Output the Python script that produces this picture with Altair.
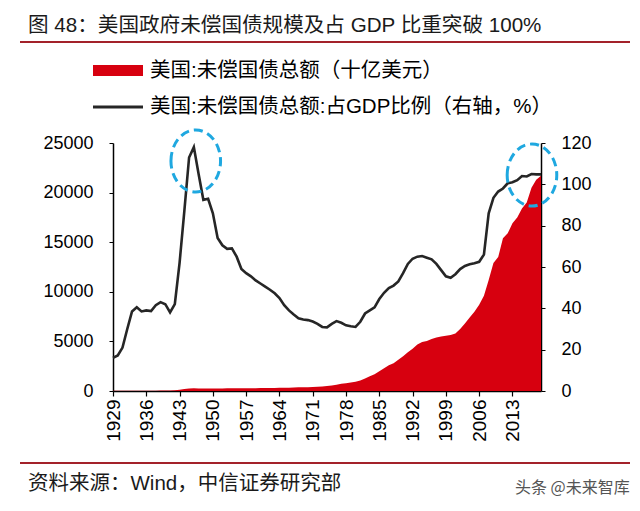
import altair as alt
import pandas as pd

# ---- data ----
years = list(range(1929, 2020))

debt_bn = [17, 16, 17, 19, 23, 27, 29, 34, 36, 37,          # 1929-1938
           40, 43, 49, 72, 137, 201, 259, 270, 258, 252,     # 1939-1948
           253, 257, 255, 259, 266, 271, 274, 273, 271, 276, # 1949-1958
           285, 291, 293, 303, 310, 316, 322, 328, 341, 370, # 1959-1968
           367, 381, 408, 436, 466, 500, 560, 640, 720, 790, # 1969-1978
           850, 930, 1050, 1250, 1480, 1700, 2000, 2300, 2600, 2800,  # 1979-1988
           3150, 3500, 3900, 4250, 4700, 4950, 5050, 5250, 5400, 5500, # 1989-1998
           5570, 5650, 5800, 6250, 6800, 7400, 8000, 8700, 9600, 11200, # 1999-2008
           12900, 13500, 15400, 15900, 16900, 17500, 18400, 19000, 20500, 21300, # 2009-2018
           21700]  # 2019

debt_pct = [16, 17.2, 21, 30, 38.5, 40.5, 38.5, 39, 38.7, 41.5,   # 1929-1938
            43, 42, 38, 42, 62, 87, 113, 118, 105, 92.5,          # 1939-1948
            93, 86, 74, 70.5, 68.8, 69, 65, 59, 57, 55.5,         # 1949-1958
            53.5, 52, 50.5, 49, 47.3, 45, 41.5, 39, 37, 35.2,     # 1959-1968
            34.6, 34.3, 33.6, 32.5, 31, 30.8, 32.5, 33.8, 33, 31.8, # 1969-1978
            31.3, 31, 33.5, 37.5, 39, 40.5, 44.5, 47.5, 49.8, 51,   # 1979-1988
            53, 57, 61.5, 64, 65, 65.3, 64.5, 63.7, 61.5, 58.5,     # 1989-1998
            55.5, 54.8, 56.5, 59, 60.5, 61.3, 61.8, 62.5, 66, 86,   # 1999-2008
            93.5, 96.5, 98, 100.5, 101, 102, 104, 103.8, 105, 104.8, # 2009-2018
            104.8]  # 2019

x_tick_years = [1929, 1936, 1943, 1950, 1957, 1964, 1971, 1978, 1985, 1992, 1999, 2006, 2013]
left_ticks = [0, 5000, 10000, 15000, 20000, 25000]
right_ticks = [0, 20, 40, 60, 80, 100, 120]

highlight_years = [1946.4, 2017.1]
highlight_pct = [111.3, 104.5]

title_text = "图 48：美国政府未偿国债规模及占 GDP 比重突破 100%"
legend_area = "美国:未偿国债总额（十亿美元）"
legend_line = "美国:未偿国债总额:占GDP比例（右轴，%）"
source_text = "资料来源：Wind，中信证券研究部"
watermark = "头条 @未来智库"

df = pd.DataFrame({"year": years, "debt": debt_bn, "pct": debt_pct})
hl = pd.DataFrame({"year": highlight_years, "pct": highlight_pct})
one = pd.DataFrame({"a": [0]})

FONT = "Liberation Sans, Noto Sans CJK SC"
RED = "#D7000F"

x_axis = alt.Axis(values=x_tick_years, format="d", labelAngle=-90,
                  labelFontSize=19, labelFont=FONT, labelColor="#000",
                  tickSize=5, labelPadding=3, title=None,
                  domainColor="#000", domainWidth=1.5, tickColor="#000",
                  tickWidth=1.2, grid=False, labelFlush=False)
x_scale = alt.Scale(domain=[1929, 2019], nice=False, zero=False)

right_axis = alt.Axis(orient="right", values=right_ticks, format="d",
                      labelFontSize=18, labelFont=FONT, labelColor="#000",
                      title=None, tickSize=4, labelPadding=16,
                      domainColor="#000", domainWidth=1.5, tickColor="#000",
                      grid=False)
right_scale = alt.Scale(domain=[0, 120], nice=False)

area = alt.Chart(df).mark_area(color=RED, opacity=1).encode(
    x=alt.X("year:Q", scale=x_scale, axis=x_axis),
    y=alt.Y("debt:Q", scale=alt.Scale(domain=[0, 25000], nice=False),
            axis=alt.Axis(values=left_ticks, format="d", labelFontSize=18,
                          labelFont=FONT, labelColor="#000", title=None,
                          tickSize=4, labelPadding=16, domainColor="#000",
                          domainWidth=1.5, tickColor="#000", grid=False))
)

line = alt.Chart(df).mark_line(color="#262626", strokeWidth=2.6).encode(
    x=alt.X("year:Q", scale=x_scale, axis=x_axis),
    y=alt.Y("pct:Q", scale=right_scale, axis=right_axis)
)

ellipse_path = "M -0.8 0 A 0.8 1 0 1 1 0.8 0 A 0.8 1 0 1 1 -0.8 0 Z"
circles = alt.Chart(hl).mark_point(shape=ellipse_path, size=3844, filled=False,
                                   stroke="#1FA8E0", strokeWidth=3,
                                   strokeDash=[9, 5], opacity=1).encode(
    x=alt.X("year:Q", scale=x_scale, axis=x_axis),
    y=alt.Y("pct:Q", scale=right_scale, axis=right_axis)
)

right_layer = alt.layer(line, circles)

# ---- decorations: title, rules, legend, source ----
title = alt.Chart(one).mark_text(text=title_text, font=FONT, fontSize=20.6,
                                 align="left", baseline="middle", color="#1a1a1a").encode(
    x=alt.value(-85), y=alt.value(-117))
title_rule = alt.Chart(one).mark_rule(color="#A3222A", strokeWidth=2).encode(
    x=alt.value(-93), x2=alt.value(517), y=alt.value(-101))
leg_rect = alt.Chart(one).mark_rect(color=RED).encode(
    x=alt.value(-20), x2=alt.value(30), y=alt.value(-78), y2=alt.value(-67))
leg_text1 = alt.Chart(one).mark_text(text=legend_area, font=FONT, fontSize=20.5,
                                     align="left", baseline="middle", color="#000").encode(
    x=alt.value(37), y=alt.value(-72))
leg_line = alt.Chart(one).mark_rule(color="#262626", strokeWidth=3).encode(
    x=alt.value(-20), x2=alt.value(30), y=alt.value(-36))
leg_text2 = alt.Chart(one).mark_text(text=legend_line, font=FONT, fontSize=20.5,
                                     align="left", baseline="middle", color="#000").encode(
    x=alt.value(37), y=alt.value(-36))
bottom_rule = alt.Chart(one).mark_rule(color="#A3222A", strokeWidth=2).encode(
    x=alt.value(-93), x2=alt.value(517), y=alt.value(320))
source = alt.Chart(one).mark_text(text=source_text, font=FONT, fontSize=20.5,
                                  align="left", baseline="middle", color="#1a1a1a").encode(
    x=alt.value(-85), y=alt.value(341))
wm = alt.Chart(one).mark_text(text=watermark, font="Noto Sans CJK SC", fontSize=16,
                              align="left", baseline="middle", color="#555").encode(
    x=alt.value(402), y=alt.value(345))

chart = alt.layer(area, right_layer, title, title_rule, leg_rect, leg_text1,
                  leg_line, leg_text2, bottom_rule, source, wm).resolve_scale(
    y="independent"
).properties(
    width=428, height=248,
    autosize=alt.AutoSizeParams(type="none"),
    padding={"left": 113, "top": 143, "right": 99, "bottom": 120},
    background="white"
).configure_view(stroke=None)

chart.save("out.html", embed_options={"renderer": "svg", "actions": False})
